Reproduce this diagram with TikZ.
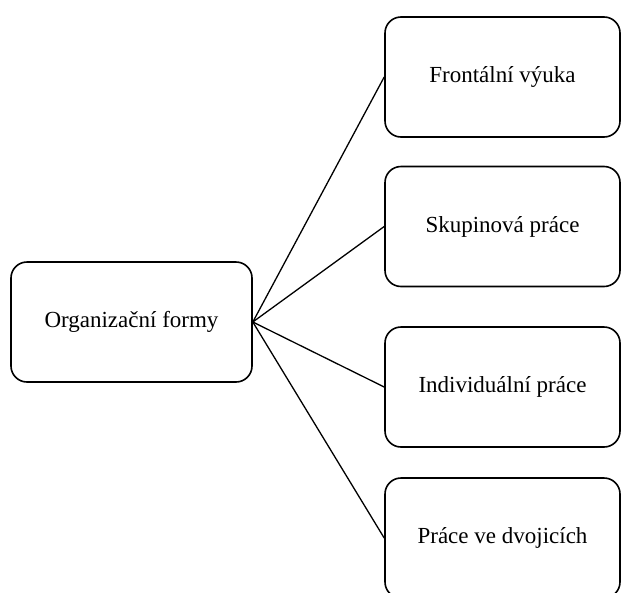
\documentclass[tikz,border=0pt]{standalone}
\usepackage{fontspec}
\setmainfont{Liberation Serif}
\begin{document}
\begin{tikzpicture}[x=1pt,y=1pt,
    box/.style={draw=black,line width=1.6pt,rounded corners=16pt,inner sep=0pt,
      minimum height=120pt,font=\fontsize{23}{27}\selectfont},
    leftbox/.style={box,minimum width=241pt},
    rightbox/.style={box,minimum width=235pt},
    link/.style={draw=black,line width=1.3pt}]
    \useasboundingbox (0,0) rectangle (621,-592);
    \node [leftbox] (forms) at (131.5,-322) {Organizační formy};
    \node [rightbox] (front) at (502.5,-77) {Frontální výuka};
    \node [rightbox] (group) at (502.5,-226.5) {Skupinová práce};
    \node [rightbox] (indiv) at (502.5,-387) {Individuální práce};
    \node [rightbox] (pairs) at (502.5,-538) {Práce ve dvojicích};
    \foreach \n in {front,group,indiv,pairs}
        \draw [link] (forms.east) -- (\n.west);
\end{tikzpicture}
\end{document}
